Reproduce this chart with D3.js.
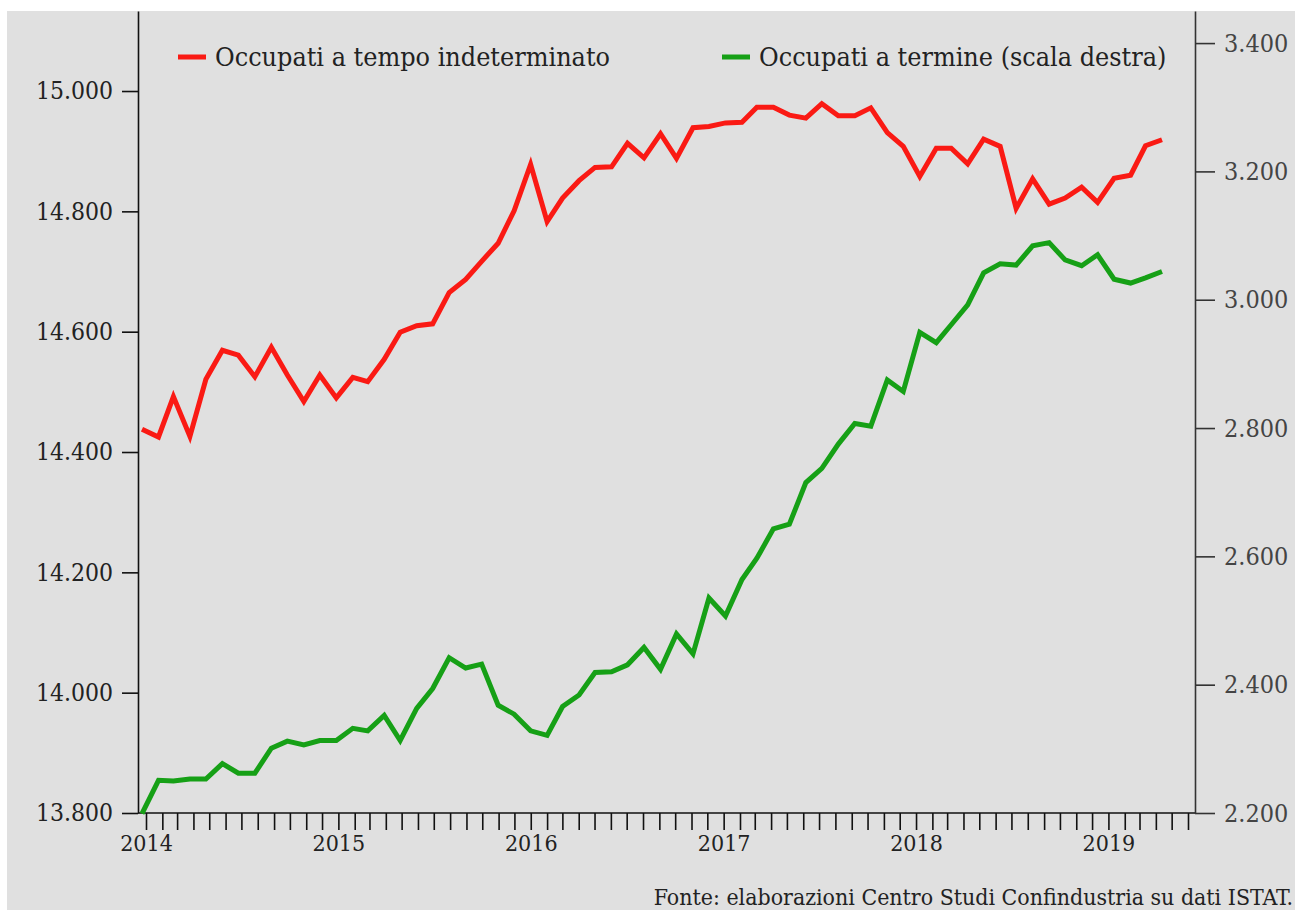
<!DOCTYPE html>
<html>
<head>
<meta charset="utf-8">
<script src="https://cdn.jsdelivr.net/npm/d3@7"></script>
<style>
  body { margin: 0; background: #fff; }
  text { font-family: "DejaVu Serif Condensed", "DejaVu Serif", serif; font-stretch: condensed; }
</style>
</head>
<body>
<div id="chart"></div>
<script>
// monthly data, Jan 2014 - Apr 2019 (thousands)
const months = d3.timeMonth.range(new Date(2014, 0, 1), new Date(2019, 4, 1));

const indeterminato = [
  14438, 14425, 14492, 14426, 14521, 14569, 14561, 14525, 14574, 14528, 14484, 14528,
  14490, 14524, 14517, 14554, 14599, 14610, 14613, 14665, 14687, 14717, 14747, 14801,
  14878, 14783, 14822, 14851, 14873, 14874, 14913, 14889, 14929, 14888, 14939, 14941,
  14947, 14948, 14973, 14973, 14960, 14955, 14979, 14959, 14959, 14972, 14931, 14908,
  14858, 14905, 14905, 14879, 14920, 14908, 14805, 14854, 14812, 14822, 14840, 14815,
  14855, 14860, 14909, 14919
];

const aTermine = [
  2199, 2251, 2250, 2253, 2253, 2277, 2262, 2262, 2301, 2312, 2306, 2313,
  2313, 2332, 2328, 2352, 2313, 2363, 2394, 2442, 2426, 2432, 2368, 2354,
  2328, 2321, 2366, 2384, 2419, 2420, 2431, 2458, 2424, 2479, 2448, 2535,
  2507, 2564, 2597, 2643, 2650, 2715, 2737, 2775, 2807, 2803, 2875, 2857,
  2949, 2933, 2961, 2992, 3042, 3056, 3054, 3084, 3089, 3062, 3053, 3070,
  3032, 3026, 3034, 3044
];

const leftTicks = [13800, 14000, 14200, 14400, 14600, 14800, 15000];
const rightTicks = [2200, 2400, 2600, 2800, 3000, 3200, 3400];
const seriesNames = ["Occupati a tempo indeterminato", "Occupati a termine (scala destra)"];
const source = "Fonte: elaborazioni Centro Studi Confindustria su dati ISTAT.";

const W = 1295, H = 910;
const axLeft = 138, axRight = 1195, axTop = 11, axBottom = 813;

const it = d3.formatLocale({ decimal: ",", thousands: ".", grouping: [3], currency: ["€", ""] });
const fmt = it.format(",.0f");

const svg = d3.select("#chart").append("svg")
  .attr("width", W).attr("height", H);

// grey panel
svg.append("rect")
  .attr("x", 7).attr("y", axTop)
  .attr("width", W - 7).attr("height", H - axTop)
  .attr("fill", "#e0e0e0");

const xData = d3.scaleTime()
  .domain([months[0], months[months.length - 1]])
  .range([142, 1162]);

const xAxisScale = d3.scaleTime()
  .domain([new Date(2014, 0, 1), new Date(2019, 5, 1)])
  .range([146, 1188]);

const yL = d3.scaleLinear().domain([13800, 15133]).range([axBottom, axTop]);
const yR = d3.scaleLinear().domain([2200, 3450]).range([axBottom, axTop]);

// x axis
const gx = svg.append("g")
  .attr("transform", `translate(0, ${axBottom})`)
  .call(d3.axisBottom(xAxisScale)
    .tickValues(d3.timeMonth.range(new Date(2014, 0, 1), new Date(2019, 6, 1)))
    .tickSize(17)
    .tickSizeOuter(0)
    .tickPadding(5)
    .tickFormat(d => d.getMonth() === 0 ? d.getFullYear() : ""));
gx.select(".domain").remove();
gx.append("line")
  .attr("x1", axLeft).attr("x2", axRight)
  .attr("stroke", "#111").attr("stroke-width", 1.6);
gx.selectAll(".tick line").attr("stroke", "#111").attr("stroke-width", 1.6);
gx.selectAll("text").attr("font-size", 23).attr("fill", "#222");

// left axis
const gl = svg.append("g")
  .attr("transform", `translate(${axLeft}, 0)`)
  .call(d3.axisLeft(yL).tickValues(leftTicks).tickSize(16).tickSizeOuter(0).tickPadding(9).tickFormat(fmt));
gl.select(".domain").attr("stroke", "#111").attr("stroke-width", 1.6);
gl.selectAll(".tick line").attr("stroke", "#111").attr("stroke-width", 1.6);
gl.selectAll("text").attr("font-size", 24.5).attr("fill", "#222");

// right axis
const gr = svg.append("g")
  .attr("transform", `translate(${axRight}, 0)`)
  .call(d3.axisRight(yR).tickValues(rightTicks).tickSize(20).tickSizeOuter(0).tickPadding(9).tickFormat(fmt));
gr.select(".domain").attr("stroke", "#333").attr("stroke-width", 1.6);
gr.selectAll(".tick line").attr("stroke", "#333").attr("stroke-width", 1.6);
gr.selectAll("text").attr("font-size", 25).attr("fill", "#444");

// lines
const lineL = d3.line().x((d, i) => xData(months[i])).y(d => yL(d));
const lineR = d3.line().x((d, i) => xData(months[i])).y(d => yR(d));

svg.append("path")
  .datum(aTermine)
  .attr("d", lineR)
  .attr("fill", "none")
  .attr("stroke", "#16a016")
  .attr("stroke-width", 5)
  .attr("stroke-linejoin", "miter");

svg.append("path")
  .datum(indeterminato)
  .attr("d", lineL)
  .attr("fill", "none")
  .attr("stroke", "#fa1a14")
  .attr("stroke-width", 5)
  .attr("stroke-linejoin", "miter");

// legend
const legend = [
  { name: seriesNames[0], color: "#fa1a14", x: 178 },
  { name: seriesNames[1], color: "#16a016", x: 722 }
];
const lg = svg.append("g").selectAll("g").data(legend).enter().append("g")
  .attr("transform", d => `translate(${d.x}, 57)`);
lg.append("line")
  .attr("x1", 0).attr("x2", 28)
  .attr("stroke", d => d.color).attr("stroke-width", 5);
lg.append("text")
  .attr("x", 37).attr("y", 9)
  .attr("font-size", 26.7)
  .attr("fill", "#222")
  .text(d => d.name);

// source
svg.append("text")
  .attr("x", 1293).attr("y", 905)
  .attr("text-anchor", "end")
  .attr("font-size", 22.9)
  .attr("fill", "#222")
  .text(source);
</script>
</body>
</html>
